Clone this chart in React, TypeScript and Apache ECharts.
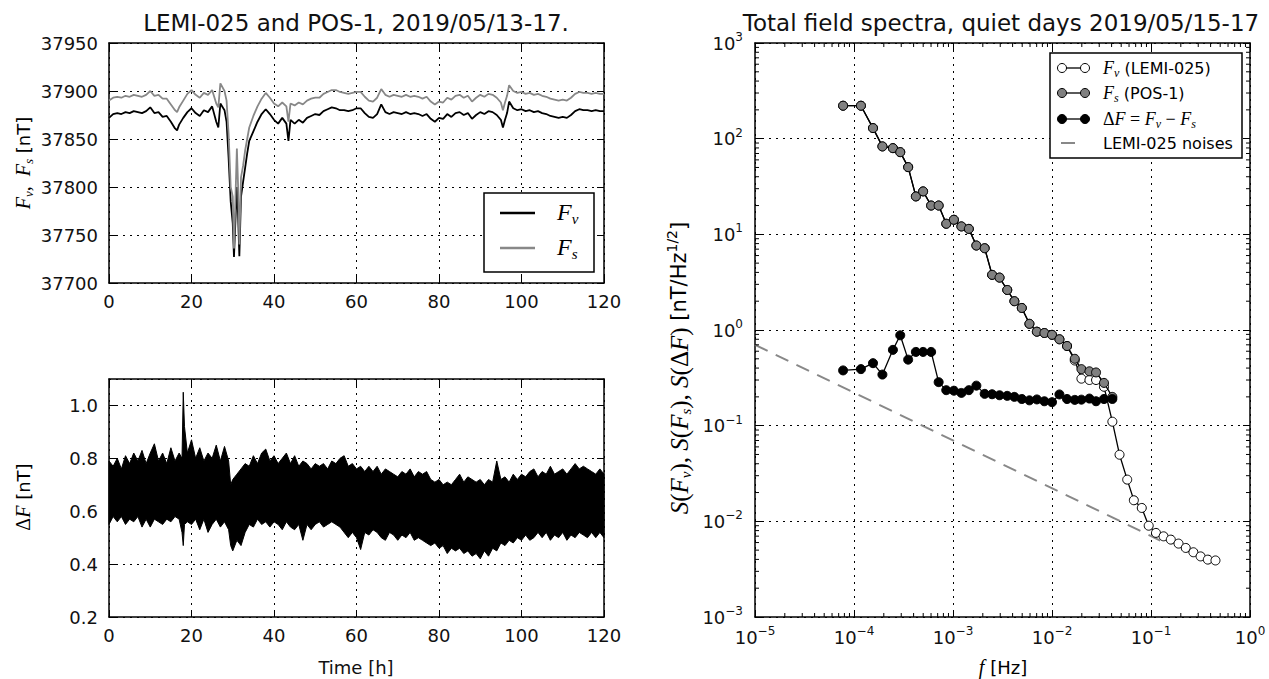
import { useEffect, useRef } from "react";
import * as echarts from "echarts";

// ---------- Top-left: total field time series (hours, nT) ----------
const topHours = [
  0, 1, 2, 3, 4, 5, 6, 7, 8, 9, 10, 11, 12, 13, 14, 15, 16, 16.5, 17, 18, 19, 20, 21, 22, 23, 24, 25, 26, 26.5, 27,
  28, 28.5, 29, 29.5, 30, 30.3, 30.6, 31, 31.3, 31.6, 32, 32.5, 33, 33.5, 34, 35, 36, 37, 38, 39, 40, 41, 42, 43, 43.5,
  44, 45, 46, 47, 48, 49, 50, 51, 52, 53, 54, 55, 56, 57, 58, 59, 60, 61, 62, 63, 64, 65, 66, 67, 68, 69, 70, 71, 72,
  73, 74, 75, 76, 77, 78, 79, 80, 81, 82, 83, 84, 85, 86, 87, 88, 89, 90, 91, 92, 93, 94, 95, 95.5, 96, 96.5, 97, 98,
  99, 100, 101, 102, 103, 104, 105, 106, 107, 108, 109, 110, 111, 112, 113, 114, 115, 116, 117, 118, 119, 120,
];
const fvField = [
  37872, 37876, 37877, 37876, 37878, 37877, 37879, 37878, 37877, 37879, 37883, 37877, 37878, 37873, 37874, 37868, 37861,
  37859,
  37865, 37872, 37878, 37882, 37877, 37874, 37880, 37878, 37884, 37868,
  37862,
  37887, 37880,
  37868, 37830, 37785, 37762, 37727, 37760, 37800, 37770, 37728, 37790, 37805, 37820, 37835,
  37848, 37858, 37868, 37876, 37881, 37876, 37870, 37866, 37872, 37866,
  37848,
  37870, 37866, 37870, 37867, 37872, 37874, 37876, 37875, 37879, 37881, 37883, 37882, 37880, 37880, 37879, 37880, 37882,
  37882, 37877, 37873, 37872, 37876, 37886, 37878, 37876, 37878, 37877, 37876, 37878, 37876, 37877, 37876, 37874, 37876,
  37871, 37868, 37872, 37871, 37876, 37873, 37877, 37878, 37875, 37877, 37871, 37875, 37878, 37876, 37879, 37878, 37875,
  37870,
  37862, 37870, 37877,
  37889, 37882, 37880, 37881, 37879, 37880, 37878, 37879, 37877, 37876, 37874, 37873, 37872, 37873, 37872, 37875, 37879,
  37881, 37880, 37880, 37879, 37880, 37879, 37879,
];
const fsField = [
  37890, 37893, 37894, 37893, 37895, 37894, 37896, 37895, 37894, 37896, 37900, 37895, 37896, 37892, 37892, 37886, 37880,
  37878,
  37883, 37890, 37897, 37901, 37896, 37893, 37898, 37896, 37901, 37887,
  37883,
  37908, 37900,
  37890, 37855, 37800, 37790, 37736, 37780, 37840, 37800, 37740, 37810, 37822, 37838, 37850,
  37862, 37874, 37884, 37892, 37898, 37893, 37887, 37884, 37888, 37884,
  37868,
  37887, 37885, 37888, 37886, 37890, 37892, 37893, 37893, 37897, 37899, 37901, 37901, 37899, 37898, 37897, 37898, 37899,
  37899, 37894, 37890, 37889, 37893, 37902, 37896, 37894, 37896, 37895, 37894, 37896, 37894, 37895, 37894, 37892, 37894,
  37889, 37886, 37889, 37888, 37893, 37891, 37895, 37896, 37893, 37895, 37889, 37893, 37896, 37894, 37897, 37896, 37893,
  37888,
  37880, 37888, 37895,
  37906, 37900, 37898, 37899, 37897, 37898, 37896, 37897, 37895, 37894, 37892, 37891, 37890, 37891, 37890, 37893, 37897,
  37899, 37898, 37898, 37897, 37898, 37897, 37897,
];

// ---------- Bottom-left: ΔF envelope (hours, nT) ----------
const dfHours = [
  0, 1, 2, 3, 4, 5, 6, 7, 8, 9, 10, 11, 12, 13, 14, 15, 16, 17, 17.7, 18, 18.3, 19, 20, 21, 22, 23, 24, 25, 26, 27, 28,
  29, 29.5, 30, 31, 32, 33, 34, 35, 36, 37, 38, 39, 40, 41, 42, 43, 44, 45, 46, 47, 48, 49, 50, 51, 52, 53, 54, 55, 56,
  57, 58, 59, 60, 61, 62, 63, 64, 65, 66, 67, 68, 69, 70, 71, 72, 73, 74, 75, 76, 77, 78, 79, 80, 81, 82, 83, 84, 85,
  86, 87, 88, 89, 90, 91, 92, 93, 94, 95, 96, 97, 98, 99, 100, 101, 102, 103, 104, 105, 106, 107, 108, 109, 110, 111,
  112, 113, 114, 115, 116, 117, 118, 119, 120,
];
const dfUpper = [
  0.79, 0.77, 0.8, 0.76, 0.81, 0.78, 0.82, 0.79, 0.83, 0.78, 0.82, 0.855, 0.79, 0.82, 0.78, 0.84, 0.79, 0.82,
  0.8, 1.05, 0.92,
  0.82, 0.87, 0.8, 0.84, 0.79, 0.82, 0.8, 0.85, 0.79, 0.845, 0.79,
  0.7,
  0.72, 0.74, 0.76, 0.78, 0.77, 0.81, 0.78, 0.82, 0.835, 0.79,
  0.81, 0.78, 0.8, 0.82, 0.78, 0.81, 0.77, 0.79, 0.78, 0.76,
  0.78, 0.77, 0.78, 0.76, 0.79, 0.78, 0.8, 0.81, 0.77, 0.78,
  0.76, 0.77, 0.75, 0.77, 0.75, 0.77, 0.74, 0.76, 0.75, 0.74,
  0.73, 0.75, 0.74, 0.76, 0.73, 0.75, 0.74, 0.75, 0.72, 0.71,
  0.72, 0.7, 0.71, 0.7, 0.72, 0.74, 0.71, 0.73, 0.72, 0.71,
  0.72, 0.7, 0.72, 0.71, 0.79, 0.72, 0.73, 0.71, 0.74, 0.72,
  0.74, 0.73, 0.75, 0.76, 0.73, 0.75, 0.74, 0.77, 0.74, 0.75,
  0.76, 0.74, 0.76, 0.78, 0.76, 0.77, 0.76, 0.75, 0.74, 0.76,
  0.74,
];
const dfLower = [
  0.55, 0.58, 0.56, 0.58, 0.55, 0.57, 0.56, 0.58, 0.54, 0.57, 0.54, 0.57, 0.56, 0.55, 0.57, 0.56, 0.58, 0.57,
  0.52, 0.47, 0.55,
  0.56, 0.55, 0.57, 0.53, 0.57, 0.52, 0.55, 0.57, 0.54, 0.56, 0.53,
  0.47,
  0.45, 0.49, 0.47, 0.52, 0.55, 0.54, 0.57, 0.55, 0.56, 0.54,
  0.56, 0.55, 0.53, 0.56, 0.54, 0.53, 0.55, 0.49, 0.55, 0.53,
  0.55, 0.56, 0.54, 0.55, 0.56, 0.55, 0.54, 0.52, 0.5, 0.52,
  0.5, 0.455, 0.52, 0.51, 0.53, 0.52, 0.5, 0.49, 0.52, 0.51,
  0.49, 0.51, 0.5, 0.52, 0.49, 0.5, 0.49, 0.48, 0.47, 0.48,
  0.46, 0.47, 0.44, 0.46, 0.45, 0.46, 0.44, 0.45, 0.43, 0.44,
  0.42, 0.45, 0.43, 0.46, 0.45, 0.48, 0.47, 0.49, 0.48, 0.5,
  0.49, 0.51, 0.49, 0.5, 0.52, 0.5, 0.52, 0.49, 0.51, 0.5,
  0.52, 0.49, 0.51, 0.5, 0.52, 0.51, 0.5, 0.52, 0.5, 0.52,
  0.5,
];

// ---------- Right: spectra (Hz, nT/Hz^1/2) ----------
const specFreqs = [
  7.76e-5, 1.175e-4, 1.556e-4, 1.936e-4, 2.472e-4, 2.931e-4, 3.524e-4, 4.217e-4, 4.989e-4, 6.012e-4,
  7.161e-4, 8.551e-4, 1.021e-3, 1.216e-3, 1.445e-3, 1.722e-3, 2.089e-3, 2.483e-3, 2.951e-3, 3.532e-3,
  4.169e-3, 4.955e-3, 5.916e-3, 7.031e-3, 8.375e-3, 1.0e-2, 1.189e-2, 1.419e-2, 1.698e-2, 1.982e-2,
  2.388e-2, 2.786e-2, 3.35e-2, 4.07e-2, 4.81e-2, 5.75e-2, 6.71e-2, 8.07e-2, 9.48e-2, 0.1122,
  0.134, 0.1585, 0.1897, 0.2244, 0.268, 0.317, 0.375, 0.448,
];
const specFv = [
  221, 221, 129, 83, 79.6, 72.3, 50.4, 24.9, 28.1, 20.0,
  20.0, 12.9, 14.2, 12.1, 11.4, 7.64, 7.16, 3.77, 3.53, 2.62,
  2.0, 1.7, 1.16, 0.96, 0.93, 0.89, 0.8, 0.68, 0.48, 0.31,
  0.3, 0.3, 0.255, 0.11, 0.0497, 0.0273, 0.0166, 0.0138, 0.009, 0.00757,
  0.00697, 0.00644, 0.00585, 0.00527, 0.00475, 0.0043, 0.00398, 0.0039,
];
const specFs = [
  221, 221, 129, 83, 79.6, 72.3, 50.4, 24.9, 28.1, 20.0,
  20.0, 12.9, 14.2, 12.1, 11.4, 7.64, 7.16, 3.77, 3.53, 2.62,
  2.0, 1.7, 1.16, 0.96, 0.93, 0.89, 0.8, 0.68, 0.5, 0.39,
  0.37, 0.36, 0.28, 0.2,
];
const specDF = [
  0.378, 0.39, 0.45, 0.342, 0.62, 0.88, 0.49, 0.59, 0.59, 0.59,
  0.285, 0.235, 0.232, 0.22, 0.235, 0.262, 0.215, 0.213, 0.208, 0.205,
  0.2, 0.19, 0.184, 0.188, 0.18, 0.176, 0.212, 0.19, 0.186, 0.187,
  0.192, 0.18, 0.19, 0.19,
];
const noiseFreqs = [1e-5, 0.124];
const noiseLevels = [0.7, 0.0063];

const FONT = "DejaVu Sans";
const MATH = "Liberation Serif";

const minorValues = (fromExp: number, toExp: number) => {
  const out: number[] = [];
  for (let e = fromExp; e < toExp; e++) for (let m = 2; m <= 9; m++) out.push(m * Math.pow(10, e));
  return out;
};

const dotted = { type: [2, 5] as any, color: "#000", width: 1 };
const frameLine = { show: true, onZero: false, lineStyle: { color: "#000", width: 1.5 } };
const tick = { show: true, inside: true, length: 7, lineStyle: { color: "#000", width: 1 } };
const tickLabel = { fontFamily: FONT, fontSize: 18, color: "#111" };
const sup = (v: number) => {
  const e = Math.round(Math.log10(v));
  return `{b|10}{s|${e < 0 ? "\u2212" + -e : e}}`;
};
const powRich = {
  b: { fontFamily: FONT, fontSize: 18, color: "#111", lineHeight: 24 },
  s: { fontFamily: FONT, fontSize: 12, color: "#111", verticalAlign: "top", lineHeight: 12 },
};
const mathRich = {
  t: { fontFamily: FONT, fontSize: 16, color: "#111", lineHeight: 22 },
  m: { fontFamily: MATH, fontStyle: "italic", fontSize: 18, color: "#555", lineHeight: 22 },
  u: { fontFamily: MATH, fontSize: 18, color: "#555", lineHeight: 22 },
  ms: { fontFamily: MATH, fontStyle: "italic", fontSize: 12, color: "#555", verticalAlign: "bottom", lineHeight: 12 },
};
const labelRich = {
  t: { fontFamily: FONT, fontSize: 18, color: "#111", lineHeight: 24 },
  m: { fontFamily: MATH, fontStyle: "italic", fontSize: 20, color: "#555", lineHeight: 24 },
  u: { fontFamily: MATH, fontSize: 20, color: "#555", lineHeight: 24 },
  ms: { fontFamily: MATH, fontStyle: "italic", fontSize: 13, color: "#555", verticalAlign: "bottom", lineHeight: 13 },
  sp: { fontFamily: FONT, fontSize: 12, color: "#111", verticalAlign: "top", lineHeight: 12 },
};
const bigLabelRich = {
  t: { fontFamily: FONT, fontSize: 21, color: "#222", lineHeight: 28 },
  m: { fontFamily: MATH, fontStyle: "italic", fontSize: 25, color: "#666", lineHeight: 28 },
  u: { fontFamily: MATH, fontSize: 25, color: "#666", lineHeight: 28 },
  ms: { fontFamily: MATH, fontStyle: "italic", fontSize: 15, color: "#666", verticalAlign: "bottom", lineHeight: 15 },
  sp: { fontFamily: FONT, fontSize: 14, color: "#222", verticalAlign: "top", lineHeight: 14 },
};
const legendRich = {
  m: { fontFamily: MATH, fontStyle: "italic", fontSize: 24, color: "#333", lineHeight: 28 },
  ms: { fontFamily: MATH, fontStyle: "italic", fontSize: 15, color: "#333", verticalAlign: "bottom", lineHeight: 15 },
};

function linAxes(grid: number, min: number, max: number, interval: number, fmt: (v: number) => string, hideMax: boolean) {
  return {
    x: [
      {
        type: "value", gridIndex: grid, min: 0, max: 120, interval: 20, position: "bottom",
        axisLine: frameLine, axisTick: tick, axisLabel: { ...tickLabel, margin: 9 },
        splitLine: { show: true, lineStyle: dotted },
      },
      {
        type: "value", gridIndex: grid, min: 0, max: 120, interval: 20, position: "top",
        axisLine: frameLine, axisTick: tick, axisLabel: { show: false }, splitLine: { show: false },
      },
    ],
    y: [
      {
        type: "value", gridIndex: grid, min, max, interval, position: "left",
        axisLine: frameLine, axisTick: tick,
        axisLabel: { ...tickLabel, margin: 11, showMaxLabel: !hideMax, formatter: fmt },
        splitLine: { show: true, lineStyle: dotted },
      },
      {
        type: "value", gridIndex: grid, min, max, interval, position: "right",
        axisLine: frameLine, axisTick: tick, axisLabel: { show: false }, splitLine: { show: false },
      },
    ],
  };
}

export default function App() {
  const ref = useRef<HTMLDivElement>(null);
  useEffect(() => {
    document.body.style.margin = "0";
    if (!ref.current) return;
    const chart = echarts.init(ref.current, undefined, { renderer: "svg" });
    const a0 = linAxes(0, 37700, 37950, 50, (v: number) => String(v), false);
    const a1 = linAxes(1, 0.2, 1.1, 0.2, (v: number) => v.toFixed(1), true);
    const minorX = minorValues(-5, 0);
    const minorY = minorValues(-3, 3);

    const option: any = {
      animation: false,
      backgroundColor: "#fff",
      grid: [
        { left: 109, top: 43, width: 495, height: 240 },
        { left: 109, top: 379, width: 495, height: 238 },
        { left: 755, top: 43, width: 495, height: 574 },
      ],
      xAxis: [
        ...a0.x,
        ...a1.x,
        {
          type: "log", logBase: 10, gridIndex: 2, min: 1e-5, max: 1, splitNumber: 5, position: "bottom",
          axisLine: frameLine, axisTick: tick,
          axisLabel: { margin: 8, formatter: sup, rich: powRich },
          splitLine: { show: true, lineStyle: dotted },
        },
        {
          type: "log", logBase: 10, gridIndex: 2, min: 1e-5, max: 1, splitNumber: 5, position: "top",
          axisLine: frameLine, axisTick: tick, axisLabel: { show: false }, splitLine: { show: false },
        },
      ],
      yAxis: [
        ...a0.y,
        ...a1.y,
        {
          type: "log", logBase: 10, gridIndex: 2, min: 1e-3, max: 1e3, splitNumber: 6, position: "left",
          axisLine: frameLine, axisTick: tick,
          axisLabel: { margin: 12, formatter: sup, rich: powRich },
          splitLine: { show: true, lineStyle: dotted },
        },
        {
          type: "log", logBase: 10, gridIndex: 2, min: 1e-3, max: 1e3, splitNumber: 6, position: "right",
          axisLine: frameLine, axisTick: tick, axisLabel: { show: false }, splitLine: { show: false },
        },
      ],
      series: [
        {
          type: "line", name: "Fv", xAxisIndex: 0, yAxisIndex: 0, symbol: "none",
          data: topHours.map((h, i) => [h, fvField[i]]),
          lineStyle: { color: "#000", width: 1.8 }, z: 3,
        },
        {
          type: "line", name: "Fs", xAxisIndex: 0, yAxisIndex: 0, symbol: "none",
          data: topHours.map((h, i) => [h, fsField[i]]),
          lineStyle: { color: "#888", width: 1.8 }, z: 4,
        },
        {
          // ΔF band: filled polygon between the read upper and lower envelopes
          type: "custom", name: "dF", xAxisIndex: 2, yAxisIndex: 2, silent: true, z: 3,
          data: dfHours.map((h, i) => [h, dfLower[i], dfUpper[i]]),
          renderItem: (params: any, api: any) => {
            if (params.dataIndex !== 0) return null;
            const pts: number[][] = [];
            for (let i = 0; i < dfHours.length; i++) pts.push(api.coord([dfHours[i], dfUpper[i]]));
            for (let i = dfHours.length - 1; i >= 0; i--) pts.push(api.coord([dfHours[i], dfLower[i]]));
            return {
              type: "polygon",
              shape: { points: pts },
              style: { fill: "#000", stroke: "#000", lineWidth: 1 },
            };
          },
        },
        {
          type: "line", name: "LEMI-025 noises", xAxisIndex: 4, yAxisIndex: 4, symbol: "none",
          data: noiseFreqs.map((f, i) => [f, noiseLevels[i]]),
          lineStyle: { color: "#888", width: 2, type: [14, 9] }, z: 2,
        },
        {
          type: "line", name: "Fv (LEMI-025)", xAxisIndex: 4, yAxisIndex: 4, symbol: "circle", symbolSize: 9,
          data: specFreqs.map((f, i) => [f, specFv[i]]),
          lineStyle: { color: "#000", width: 1.3 },
          itemStyle: { color: "#fff", borderColor: "#000", borderWidth: 1 }, z: 3,
        },
        {
          type: "line", name: "Fs (POS-1)", xAxisIndex: 4, yAxisIndex: 4, symbol: "circle", symbolSize: 9,
          data: specFs.map((v, i) => [specFreqs[i], v]),
          lineStyle: { color: "#000", width: 1.3 },
          itemStyle: { color: "#808080", borderColor: "#000", borderWidth: 1 }, z: 4,
        },
        {
          type: "line", name: "dF = Fv - Fs", xAxisIndex: 4, yAxisIndex: 4, symbol: "circle", symbolSize: 9,
          data: specDF.map((v, i) => [specFreqs[i], v]),
          lineStyle: { color: "#000", width: 1.3 },
          itemStyle: { color: "#000", borderColor: "#000", borderWidth: 1 }, z: 5,
        },
        {
          type: "custom", xAxisIndex: 4, yAxisIndex: 4, silent: true, clip: false, z: 10,
          data: minorX.map((v) => [v, 1]),
          renderItem: (params: any, api: any) => {
            const p = api.coord([api.value(0), 1]);
            const cs = params.coordSys;
            const st = { stroke: "#000", lineWidth: 1 };
            return {
              type: "group",
              children: [
                { type: "line", shape: { x1: p[0], y1: cs.y + cs.height, x2: p[0], y2: cs.y + cs.height - 4 }, style: st },
                { type: "line", shape: { x1: p[0], y1: cs.y, x2: p[0], y2: cs.y + 4 }, style: st },
              ],
            };
          },
        },
        {
          type: "custom", xAxisIndex: 4, yAxisIndex: 4, silent: true, clip: false, z: 10,
          data: minorY.map((v) => [0.01, v]),
          renderItem: (params: any, api: any) => {
            const p = api.coord([0.01, api.value(1)]);
            const cs = params.coordSys;
            const st = { stroke: "#000", lineWidth: 1 };
            return {
              type: "group",
              children: [
                { type: "line", shape: { x1: cs.x, y1: p[1], x2: cs.x + 4, y2: p[1] }, style: st },
                { type: "line", shape: { x1: cs.x + cs.width, y1: p[1], x2: cs.x + cs.width - 4, y2: p[1] }, style: st },
              ],
            };
          },
        },
      ],
      graphic: [
        // titles
        {
          type: "text", x: 356, y: 23, silent: true,
          style: { text: "LEMI-025 and POS-1, 2019/05/13-17.", fontFamily: FONT, fontSize: 23, fill: "#111", align: "center", verticalAlign: "middle" },
        },
        {
          type: "text", x: 1001, y: 23, silent: true,
          style: { text: "Total field spectra, quiet days 2019/05/15-17", fontFamily: FONT, fontSize: 23, fill: "#111", align: "center", verticalAlign: "middle" },
        },
        // axis names
        {
          type: "text", x: 23, y: 163, rotation: Math.PI / 2, silent: true,
          style: { text: "{m|F}{ms|v}{u|,  }{m|F}{ms|s}{t| [nT]}", rich: labelRich, align: "center", verticalAlign: "middle" },
        },
        {
          type: "text", x: 23, y: 497, rotation: Math.PI / 2, silent: true,
          style: { text: "{u|\u0394}{m|F}{t| [nT]}", rich: labelRich, align: "center", verticalAlign: "middle" },
        },
        {
          type: "text", x: 356, y: 667, silent: true,
          style: { text: "Time [h]", fontFamily: FONT, fontSize: 18, fill: "#111", align: "center", verticalAlign: "middle" },
        },
        {
          type: "text", x: 679, y: 368, rotation: Math.PI / 2, silent: true,
          style: {
            text: "{m|S}{u|(}{m|F}{ms|v}{u|), }{m|S}{u|(}{m|F}{ms|s}{u|), }{m|S}{u|(\u0394}{m|F}{u|)}{t| [nT/Hz}{sp|1/2}{t|]}",
            rich: bigLabelRich, align: "center", verticalAlign: "middle",
          },
        },
        {
          type: "text", x: 1003, y: 667, silent: true,
          style: { text: "{m|f}{t| [Hz]}", rich: labelRich, align: "center", verticalAlign: "middle" },
        },
        // left legend
        {
          type: "rect", silent: true, shape: { x: 484, y: 193, width: 110, height: 79 },
          style: { fill: "#fff", stroke: "#000", lineWidth: 1.5 }, z: 50,
        },
        { type: "line", silent: true, shape: { x1: 500, y1: 213, x2: 535, y2: 213 }, style: { stroke: "#000", lineWidth: 2.5 }, z: 51 },
        { type: "line", silent: true, shape: { x1: 500, y1: 248, x2: 535, y2: 248 }, style: { stroke: "#888", lineWidth: 2.5 }, z: 51 },
        {
          type: "text", x: 557, y: 212, silent: true, z: 51,
          style: { text: "{m|F}{ms|v}", rich: legendRich, align: "left", verticalAlign: "middle" },
        },
        {
          type: "text", x: 557, y: 247, silent: true, z: 51,
          style: { text: "{m|F}{ms|s}", rich: legendRich, align: "left", verticalAlign: "middle" },
        },
        // right legend
        {
          type: "rect", silent: true, shape: { x: 1050, y: 53, width: 192, height: 105 },
          style: { fill: "#fff", stroke: "#000", lineWidth: 1.5 }, z: 50,
        },
        ...[
          { y: 68, fill: "#fff" },
          { y: 93, fill: "#808080" },
          { y: 119, fill: "#000" },
        ].flatMap((r) => [
          { type: "line", silent: true, z: 51, shape: { x1: 1062, y1: r.y, x2: 1085, y2: r.y }, style: { stroke: "#000", lineWidth: 1.3 } },
          { type: "circle", silent: true, z: 52, shape: { cx: 1062, cy: r.y, r: 4.5 }, style: { fill: r.fill, stroke: "#000", lineWidth: 1 } },
          { type: "circle", silent: true, z: 52, shape: { cx: 1085, cy: r.y, r: 4.5 }, style: { fill: r.fill, stroke: "#000", lineWidth: 1 } },
        ]),
        { type: "line", silent: true, z: 51, shape: { x1: 1061, y1: 143, x2: 1075, y2: 143 }, style: { stroke: "#888", lineWidth: 2 } },
        {
          type: "text", x: 1103, y: 68, silent: true, z: 52,
          style: { text: "{m|F}{ms|v}{t| (LEMI-025)}", rich: mathRich, align: "left", verticalAlign: "middle" },
        },
        {
          type: "text", x: 1103, y: 93, silent: true, z: 52,
          style: { text: "{m|F}{ms|s}{t| (POS-1)}", rich: mathRich, align: "left", verticalAlign: "middle" },
        },
        {
          type: "text", x: 1103, y: 119, silent: true, z: 52,
          style: { text: "{u|\u0394}{m|F}{u| = }{m|F}{ms|v}{u| \u2212 }{m|F}{ms|s}", rich: mathRich, align: "left", verticalAlign: "middle" },
        },
        {
          type: "text", x: 1103, y: 143, silent: true, z: 52,
          style: { text: "{t|LEMI-025 noises}", rich: mathRich, align: "left", verticalAlign: "middle" },
        },
      ],
    };
    chart.setOption(option);
    return () => chart.dispose();
  }, []);
  return <div ref={ref} style={{ width: 1269, height: 679 }} />;
}
